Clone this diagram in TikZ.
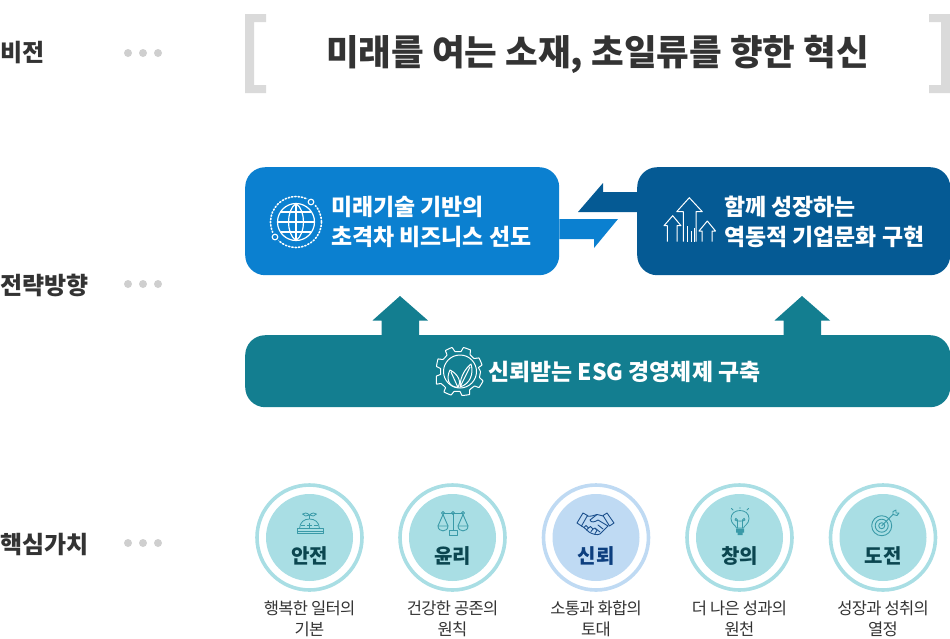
\documentclass[tikz,border=0pt]{standalone}
\usepackage{fontspec}
\setmainfont{Noto Sans CJK KR}
\usetikzlibrary{calc}
\definecolor{txt}{HTML}{333333}
\definecolor{brk}{HTML}{DADADA}
\definecolor{dotc}{HTML}{CFCFCF}
\definecolor{bluebox}{HTML}{0B80D0}
\definecolor{navybox}{HTML}{055A94}
\definecolor{tealbox}{HTML}{137E90}
\definecolor{mint}{HTML}{A9DEE4}
\definecolor{sky}{HTML}{BFDAF3}
\definecolor{minttxt}{HTML}{0B4650}
\definecolor{skytxt}{HTML}{0D3F7F}
\definecolor{mintic}{HTML}{3A9AA8}
\definecolor{skyic}{HTML}{1B4F8C}
\tikzset{
  rowlabel/.style={anchor=west,inner sep=0pt,text=txt,font=\fontsize{24}{28}\selectfont\bfseries},
  dotmark/.style={circle,fill=dotc,inner sep=0pt,minimum size=8pt},
  bigbox/.style={rounded corners=20pt,inner sep=0pt,anchor=north west},
  boxtext/.style={anchor=west,inner sep=0pt,text=white,align=left,font=\fontsize{22.9}{30}\selectfont\bfseries},
  ring/.style={circle,draw=#1,line width=3.6pt,minimum size=105pt,inner sep=0pt},
  disc/.style={circle,fill=#1,minimum size=87pt,inner sep=0pt},
  valname/.style={inner sep=0pt,font=\fontsize{20}{24}\selectfont\bfseries},
  caption/.style={inner sep=0pt,text=txt,align=center,font=\fontsize{16.5}{21}\selectfont\addfontfeature{LetterSpace=-4}},
  whiteic/.style={draw=white,line width=1.2pt,line join=round},
}
\begin{document}
\begin{tikzpicture}[x=1pt,y=-1pt]
\useasboundingbox (0,0) rectangle (950,638);
% row labels
\node[rowlabel] (l1) at (0,53) {비전};
\node[rowlabel] (l2) at (0,285) {전략방향};
\node[rowlabel] (l3) at (0,544) {핵심가치};
\foreach \yy/\nn in {53/a,284/b,543/c}{
  \node[dotmark] (d\nn1) at (128,\yy) {};
  \node[dotmark] (d\nn2) at (143,\yy) {};
  \node[dotmark] (d\nn3) at (158,\yy) {};
}
% vision brackets
\fill[brk] (245,14) -- (266,14) -- (266,22) -- (254,22) -- (254,85) -- (266,85) -- (266,93) -- (245,93) -- cycle;
\fill[brk] (950,14) -- (929,14) -- (929,22) -- (941,22) -- (941,85) -- (929,85) -- (929,93) -- (950,93) -- cycle;
\node[inner sep=0pt,text=txt,font=\fontsize{35.5}{40}\selectfont\bfseries] (vision) at (597.5,54) {미래를 여는 소재, 초일류를 향한 혁신};
% strategy boxes
\node[bigbox,fill=bluebox,minimum width=314pt,minimum height=108pt] (blue) at (245,167) {};
\node[bigbox,fill=navybox,minimum width=313pt,minimum height=108pt] (navy) at (637,167) {};
\node[bigbox,fill=tealbox,minimum width=705pt,minimum height=72pt] (teal) at (245,335) {};
\coordinate (bluesup) at (400,335);
\coordinate (navysup) at (802,335);
% block arrows
\fill[bluebox] (blue.east |- 0,219) -- (618,219) -- (594,248) -- (594,239) -- (blue.east |- 0,239) -- cycle;
\fill[navybox] (navy.west |- 0,192) -- (603,192) -- (603,183) -- (578,212) -- (navy.west |- 0,212) -- cycle;
\fill[tealbox] (bluesup) ++(-18.5,0) -- ++(0,-14.5) -- ++(-9,0) -- (bluesup |- 0,296) -- (428,320.5) -- (419,320.5) -- (419,335) -- cycle;
\fill[tealbox] (navysup) ++(-18.5,0) -- ++(0,-14.5) -- ++(-9,0) -- (navysup |- 0,296) -- (830,320.5) -- (821,320.5) -- (821,335) -- cycle;
% box texts
\node[boxtext] (bluetxt) at (331,222) {미래기술 기반의\\초격차 비즈니스 선도};
\node[boxtext] (navytxt) at (724,221.5) {함께 성장하는\\역동적 기업문화 구현};
\node[boxtext] (tealtxt) at (488,372) {신뢰받는 ESG 경영체제 구축};
% globe icon
\draw[white,line width=1.6pt,dash pattern=on 1.3pt off 2pt,line cap=round] (296,222) circle (25.5);
\fill[bluebox] (311,202) circle (5) (275,237) circle (5);
\draw[white,line width=1.1pt] (311,202) circle (2.8) (275,237) circle (2.8);
\draw[whiteic] (296,222) circle (18.5);
\draw[whiteic] (296,203.5) .. controls (286,210) and (286,234) .. (296,240.5);
\draw[whiteic] (296,203.5) .. controls (306,210) and (306,234) .. (296,240.5);
\draw[whiteic] (296,203.5) -- (296,240.5) (277.5,222) -- (314.5,222);
\draw[whiteic] (281,212) -- (311,212) (281,232) -- (311,232);
% arrows icon
\draw[whiteic,line width=1pt] (683.3,241.7) -- (683.3,211.7) -- (676.7,211.7) -- (689.3,197.7) -- (702.3,211.7) -- (696,211.7) -- (696,241.7);
\draw[whiteic,line width=1pt] (667.3,241.7) -- (667.3,225.7) -- (664,225.7) -- (672.7,215.7) -- (681,225.7) -- (677,225.7) -- (677,241.7);
\draw[whiteic,line width=1pt] (702,241.7) -- (702,231) -- (699,231) -- (707.3,221) -- (715.5,231) -- (712,231) -- (712,241.7);
\draw[whiteic,line width=1pt] (687,241.7) -- (687,226) (691,241.7) -- (691,231) (694,241.7) -- (694,228);
% gear icon
\draw[whiteic,line width=1pt] plot[smooth cycle,tension=0.15] coordinates {
 (480.5,371.7) (479.5,377.5) (483,381) (479,387.5) (474.5,386) (469.5,390) (469.5,394.5) (462,395.5) (460,391.5) (454,391.5) (451,395) (444,392) (445.5,387.5) (441,383.5) (436.5,384) (436.5,376) (440.5,374.5) (440.5,368.5) (436.5,366.5) (438,359) (443,359.5) (447,355) (445.5,350.5) (452,347.5) (455,351.5) (461,351.5) (463.5,347.5) (470.5,350) (470,354.5) (474,358.5) (479,358) (482,365) (478.5,367.5)};
\draw[whiteic,line width=1pt] (460,371.5) circle (16.5);
\draw[whiteic,line width=1pt] (458,387.5) .. controls (448,387) and (446,378) .. (450,370) .. controls (458,374) and (462,382) .. (458,387.5) -- (451,372);
\draw[whiteic,line width=1pt] (460,387) .. controls (460,376) and (466,368) .. (471,364) .. controls (474,374) and (470,384) .. (460,387) -- (470,367);
% value circles
\foreach \nm/\xx/\cc/\tc/\vv/\ca in {
  safe/309.5/mint/minttxt/안전/행복한 일터의\\기본,
  ethic/452.5/mint/minttxt/윤리/건강한 공존의\\원칙,
  trust/596/sky/skytxt/신뢰/소통과 화합의\\토대,
  idea/739.5/mint/minttxt/창의/더 나은 성과의\\원천,
  chal/883/mint/minttxt/도전/성장과 성취의\\열정}{
  \node[ring=\cc] (\nm ring) at (\xx,537.5) {};
  \node[disc=\cc] (\nm disc) at (\xx,537.5) {};
  \node[valname,text=\tc] (\nm name) at (\xx,556) {\vv};
  \node[caption] (\nm cap) at (\xx,618.5) {\ca};
}
% helmet icon
\begin{scope}[draw=mintic,line width=0.8pt,line join=round]
\draw (297,528.5) rectangle (323,533.5);
\draw (297,531) -- (323,531);
\draw (299.5,528.5) .. controls (300,522) and (304,519) .. (309.5,519) .. controls (315,519) and (319,522) .. (319.5,528.5);
\draw (309.5,519) -- (309.5,515);
\draw (309.5,515) .. controls (307,512.5) and (304,512.5) .. (302.5,514) .. controls (304,516.5) and (307,516.5) .. (309.5,515);
\draw (309.5,515) .. controls (312,512.5) and (315,512.5) .. (316.5,514) .. controls (315,516.5) and (312,516.5) .. (309.5,515);
\draw (307,525.5) -- (312,525.5) (309.5,523) -- (309.5,528);
\draw (301,525.5) -- (305,525.5) (314,525.5) -- (318,525.5);
\end{scope}
% scales icon
\begin{scope}[draw=mintic,line width=0.9pt,line join=round]
\draw (443,513) -- (463,513) (453,513) -- (453,530);
\draw (443,513) circle (1.5) (453,513) circle (1.5) (463,513) circle (1.5);
\draw (449,530) rectangle (457,535) (450.5,530) -- (455.5,530);
\draw (443,514.5) -- (438,526) (443,514.5) -- (448,526);
\draw (463,514.5) -- (458,526) (463,514.5) -- (468,526);
\draw (438,526) .. controls (438,532.5) and (448,532.5) .. (448,526) -- cycle;
\draw (458,526) .. controls (458,532.5) and (468,532.5) .. (468,526) -- cycle;
\end{scope}
% handshake icon
\begin{scope}[draw=skyic,line width=0.9pt,line join=round,line cap=round]
\draw (577,523) -- (583,513) -- (587.5,515.5) -- (581.5,526) -- cycle;
\draw (614,523) -- (607,513) -- (603,515.5) -- (609.5,526) -- cycle;
\draw (587,516) .. controls (591,517) and (594,515) .. (597,514.5) .. controls (600,514.5) and (601,516) .. (603,516);
\draw (597,514.5) -- (590,520) .. controls (591,523) and (595,522) .. (598,520) -- (608,526);
\draw (581.5,526) -- (584,527.5) (608,526) -- (600,534) .. controls (597,535.5) and (592,534) .. (589,532) -- (584,527.5);
\draw (584,527.5) -- (586,525.5) -- (588.5,528) -- (586.5,530);
\draw (588.5,528) -- (590.5,526.5) -- (593,529) -- (591,531.5);
\draw (593,529) -- (595,528) -- (597,530.5) -- (595,533.5);
\draw (603,529) -- (598,525) (600,532) -- (595.5,528.5);
\end{scope}
% bulb icon
\begin{scope}[draw=mintic,line width=0.8pt,line join=round,line cap=round]
\draw (736.5,528) .. controls (736,525.5) and (731,524) .. (731,518.5) .. controls (731,513.5) and (735,510.5) .. (740,510.5) .. controls (745,510.5) and (749,513.5) .. (749,518.5) .. controls (749,524) and (744,525.5) .. (743.5,528) -- cycle;
\draw (737.5,528) -- (737.5,520) .. controls (737.5,517.5) and (734,518) .. (735,520) .. controls (736,521.5) and (744,521.5) .. (745,520) .. controls (746,518) and (742.5,517.5) .. (742.5,520) -- (742.5,528);
\fill[mintic] (736,528.5) rectangle (744,532.5) (737.5,532.5) rectangle (742.5,535);
\draw (740,507.5) -- (740,508.5) (731.5,508.5) -- (733,510) (748.5,508.5) -- (747,510);
\end{scope}
% target icon
\begin{scope}[draw=mintic,line width=0.9pt,line join=round,line cap=round]
\draw (881.7,525.7) circle (10) (881.7,525.7) circle (6.5) (881.7,525.7) circle (3);
\draw (881.7,525.7) -- (893,514.5);
\draw (893,514.5) -- (893,511.5) -- (896,510) -- (896,513) -- (899,513) -- (897,515.5) -- (893,514.5);
\end{scope}
\end{tikzpicture}
\end{document}
